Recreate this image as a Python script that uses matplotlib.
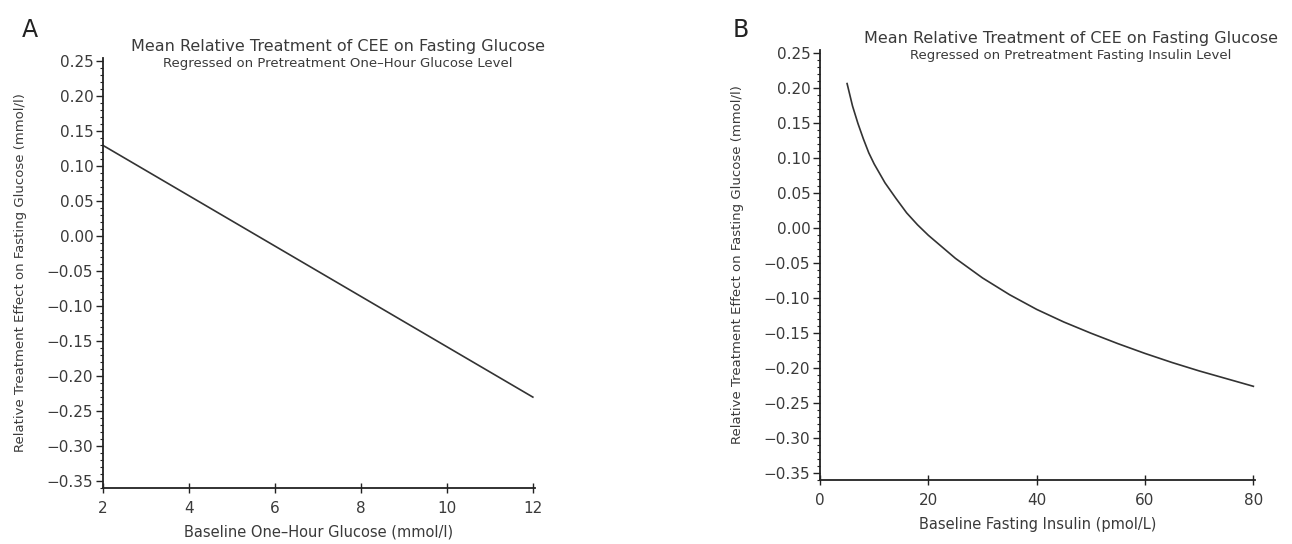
import matplotlib
matplotlib.use("Agg")
import matplotlib.pyplot as plt
from matplotlib.ticker import MultipleLocator, FuncFormatter

# Panel A data: baseline one-hour glucose vs relative treatment effect
glucose_x = [2, 4, 6, 8, 10, 12]
glucose_effect = [0.130, 0.058, -0.014, -0.086, -0.158, -0.230]

# Panel B data: baseline fasting insulin vs relative treatment effect
insulin_x = [5, 6, 7, 8, 9, 10, 12, 14, 16, 18, 20, 25, 30, 35, 40, 45, 50,
             55, 60, 65, 70, 75, 80]
insulin_effect = [0.207, 0.175, 0.150, 0.128, 0.108, 0.092, 0.065, 0.043,
                  0.022, 0.005, -0.010, -0.043, -0.071, -0.095, -0.116,
                  -0.134, -0.150, -0.165, -0.179, -0.192, -0.204, -0.215,
                  -0.226]

y_ticks = [0.25, 0.20, 0.15, 0.10, 0.05, 0.00, -0.05, -0.10, -0.15, -0.20,
           -0.25, -0.30, -0.35]
a_xticks = [2, 4, 6, 8, 10, 12]
b_xticks = [0, 20, 40, 60, 80]

title_main = "Mean Relative Treatment of CEE on Fasting Glucose"
a_sub = "Regressed on Pretreatment One\u2013Hour Glucose Level"
b_sub = "Regressed on Pretreatment Fasting Insulin Level"
ylabel = "Relative Treatment Effect on Fasting Glucose (mmol/l)"
a_xlabel = "Baseline One\u2013Hour Glucose (mmol/l)"
b_xlabel = "Baseline Fasting Insulin (pmol/L)"

plt.rcParams['font.family'] = ['DejaVu Sans']
TXT = '#3a3a3a'

fig = plt.figure(figsize=(12.92, 5.44), dpi=100)

axA = fig.add_axes([103/1292, 1-488/544, (535-103)/1292, (488-58)/544])
axB = fig.add_axes([820/1292, 1-480/544, (1255-820)/1292, (480-50)/544])


def yfmt(v, pos):
    s = "%.2f" % abs(v)
    return ("\u2212" + s) if v < -1e-9 else s


def style(ax, xticks, xlim):
    for s in ['top', 'right']:
        ax.spines[s].set_visible(False)
    for s in ['left', 'bottom']:
        ax.spines[s].set_linewidth(1.3)
        ax.spines[s].set_color('#222222')
    ax.set_ylim(-0.36, 0.255)
    ax.set_xlim(*xlim)
    ax.set_yticks(y_ticks)
    ax.yaxis.set_major_formatter(FuncFormatter(yfmt))
    ax.yaxis.set_minor_locator(MultipleLocator(0.01))
    ax.set_xticks(xticks)
    ax.tick_params(axis='both', which='major', direction='out', length=5,
                   width=1.0, labelsize=11, labelcolor=TXT, color='#222222')
    ax.tick_params(axis='y', which='minor', direction='out', length=2.5,
                   width=0.8, color='#222222')
    ax.tick_params(axis='y', which='major', pad=2)
    ax.tick_params(axis='x', which='major', direction='inout', length=7,
                   pad=6)


axA.plot(glucose_x, glucose_effect, color='#333333', lw=1.2)
style(axA, a_xticks, (2, 12.05))
axA.set_xlabel(a_xlabel, fontsize=10.5, color=TXT, labelpad=6)
axA.set_ylabel(ylabel, fontsize=9.5, color=TXT, labelpad=12)
axA.yaxis.set_label_coords(-0.175, 0.5)

axB.plot(insulin_x, insulin_effect, color='#333333', lw=1.2)
style(axB, b_xticks, (0, 80.3))
axB.set_xlabel(b_xlabel, fontsize=10.5, color=TXT, labelpad=6)
axB.set_ylabel(ylabel, fontsize=9.5, color=TXT, labelpad=12)
axB.yaxis.set_label_coords(-0.175, 0.5)

# Titles
fig.text(338/1292, 1-46/544, title_main, ha='center', va='center',
         fontsize=11.5, color=TXT)
fig.text(338/1292, 1-64/544, a_sub, ha='center', va='center',
         fontsize=9.5, color=TXT)
fig.text(1071/1292, 1-38/544, title_main, ha='center', va='center',
         fontsize=11.5, color=TXT)
fig.text(1071/1292, 1-55/544, b_sub, ha='center', va='center',
         fontsize=9.5, color=TXT)

# Panel letters
fig.text(22/1292, 1-30/544, "A", ha='left', va='center', fontsize=17,
         color='#222222')
fig.text(733/1292, 1-30/544, "B", ha='left', va='center', fontsize=17,
         color='#222222')

fig.savefig("out.png", dpi=100)
